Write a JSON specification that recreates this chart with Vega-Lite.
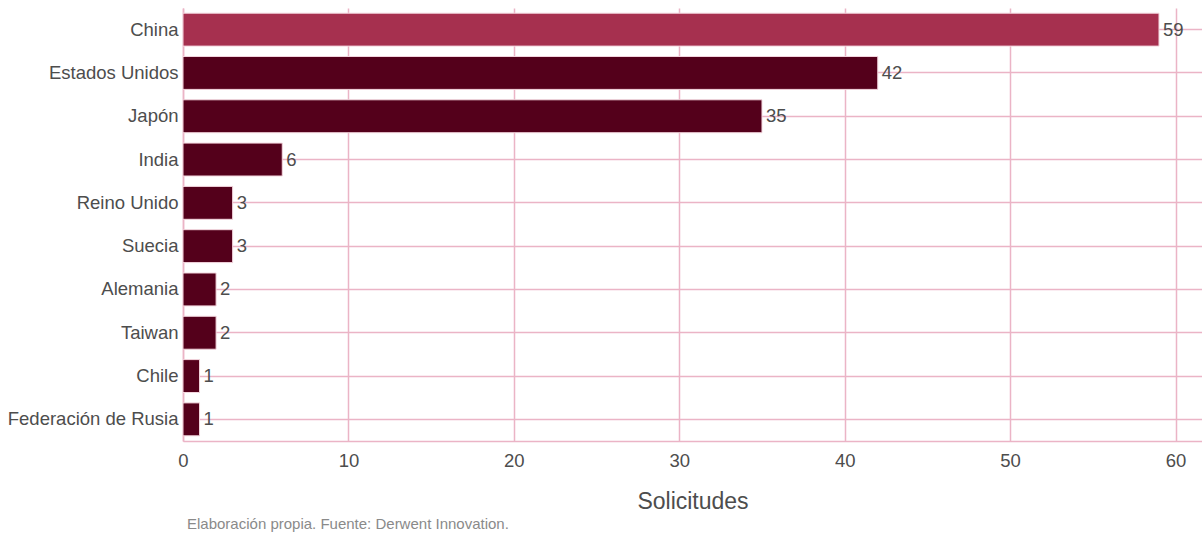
{
  "$schema": "https://vega.github.io/schema/vega-lite/v6.json",
  "width": 1019,
  "height": 433,
  "autosize": {"type": "none"},
  "padding": {"left": 183, "top": 8, "right": 0, "bottom": 92},
  "background": "white",
  "config": {
    "font": "Liberation Sans",
    "view": {"stroke": null}
  },
  "title": {
    "text": "Elaboración propia. Fuente: Derwent Innovation.",
    "orient": "bottom",
    "anchor": "start",
    "frame": "group",
    "dx": 4,
    "offset": 3,
    "fontSize": 15,
    "fontWeight": "normal",
    "color": "#8a8a8a"
  },
  "data": {
    "values": [
      {"pais": "China", "solicitudes": 59, "destacado": "si"},
      {"pais": "Estados Unidos", "solicitudes": 42, "destacado": "no"},
      {"pais": "Japón", "solicitudes": 35, "destacado": "no"},
      {"pais": "India", "solicitudes": 6, "destacado": "no"},
      {"pais": "Reino Unido", "solicitudes": 3, "destacado": "no"},
      {"pais": "Suecia", "solicitudes": 3, "destacado": "no"},
      {"pais": "Alemania", "solicitudes": 2, "destacado": "no"},
      {"pais": "Taiwan", "solicitudes": 2, "destacado": "no"},
      {"pais": "Chile", "solicitudes": 1, "destacado": "no"},
      {"pais": "Federación de Rusia", "solicitudes": 1, "destacado": "no"}
    ]
  },
  "encoding": {
    "y": {
      "field": "pais",
      "type": "nominal",
      "sort": null,
      "scale": {"paddingInner": 0.24, "paddingOuter": 0.12},
      "axis": {
        "title": null,
        "grid": true,
        "bandPosition": 0.5,
        "gridColor": "#ebb4c6",
        "gridWidth": 1.5,
        "domain": true,
        "domainColor": "#ebb4c6",
        "domainWidth": 1.5,
        "ticks": false,
        "labelPadding": 5,
        "labelFontSize": 18.5,
        "labelColor": "#4d4d4d"
      }
    },
    "x": {
      "field": "solicitudes",
      "type": "quantitative",
      "scale": {"domain": [0, 61.6], "nice": false},
      "axis": {
        "title": "Solicitudes",
        "values": [0, 10, 20, 30, 40, 50, 60],
        "grid": true,
        "gridColor": "#ebb4c6",
        "gridWidth": 1.5,
        "domain": true,
        "domainColor": "#ebb4c6",
        "domainWidth": 1.5,
        "ticks": false,
        "labelFlush": false,
        "labelPadding": 10,
        "labelFontSize": 18.5,
        "labelColor": "#4d4d4d",
        "titleFontSize": 23,
        "titleFontWeight": "normal",
        "titleColor": "#4d4d4d",
        "titlePadding": 21
      }
    }
  },
  "layer": [
    {
      "mark": {"type": "bar", "stroke": "#f3d6de", "strokeWidth": 1},
      "encoding": {
        "color": {
          "field": "destacado",
          "type": "nominal",
          "scale": {"domain": ["si", "no"], "range": ["#a6304f", "#54001b"]},
          "legend": null
        }
      }
    },
    {
      "mark": {"type": "text", "align": "left", "baseline": "middle", "dx": 4, "fontSize": 18.5, "color": "#4d4d4d"},
      "encoding": {
        "text": {"field": "solicitudes", "type": "quantitative"}
      }
    }
  ]
}
